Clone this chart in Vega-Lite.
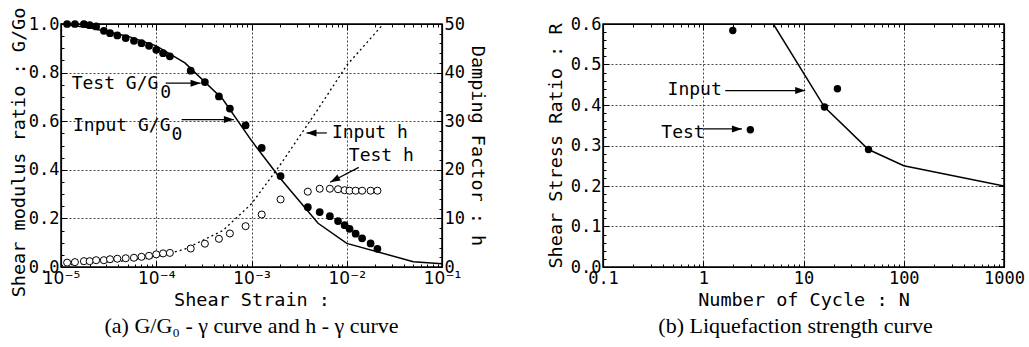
{
  "$schema": "https://vega.github.io/schema/vega-lite/v6.json",
  "background": "white",
  "padding": {"left": 8, "top": 6, "right": 0, "bottom": 0},
  "spacing": 58,
  "config": {
    "font": "DejaVu Sans Mono",
    "view": {"stroke": "black", "strokeWidth": 1.5},
    "axis": {
      "domainColor": "black", "domainWidth": 1.2, "tickColor": "black", "tickWidth": 1,
      "labelColor": "black", "titleColor": "black",
      "labelFont": "DejaVu Sans Mono", "titleFont": "DejaVu Sans Mono",
      "labelFontSize": 17, "titleFontSize": 18.5, "titleFontWeight": "normal",
      "gridColor": "#444", "gridDash": [2, 2], "gridWidth": 1,
      "labelOverlap": false, "labelFlush": false
    },
    "title": {"font": "Liberation Serif", "fontSize": 22, "fontWeight": "normal", "color": "black"}
  },
  "datasets": {
    "test": [
      {"strain": 1.16e-5, "G": 1.0, "h": 0.9},
      {"strain": 1.40e-5, "G": 1.0, "h": 1.0},
      {"strain": 1.74e-5, "G": 1.0, "h": 1.2},
      {"strain": 2.0e-5, "G": 0.995, "h": 1.2},
      {"strain": 2.34e-5, "G": 0.99, "h": 1.4},
      {"strain": 2.82e-5, "G": 0.972, "h": 1.4},
      {"strain": 3.27e-5, "G": 0.962, "h": 1.6},
      {"strain": 3.9e-5, "G": 0.953, "h": 1.7},
      {"strain": 4.78e-5, "G": 0.942, "h": 1.8},
      {"strain": 5.83e-5, "G": 0.931, "h": 1.9},
      {"strain": 7.0e-5, "G": 0.921, "h": 2.1},
      {"strain": 8.4e-5, "G": 0.91, "h": 2.3},
      {"strain": 1.0e-4, "G": 0.894, "h": 2.6},
      {"strain": 1.18e-4, "G": 0.88, "h": 2.8},
      {"strain": 1.39e-4, "G": 0.867, "h": 2.9},
      {"strain": 2.3e-4, "G": 0.808, "h": 3.8},
      {"strain": 3.24e-4, "G": 0.761, "h": 4.8},
      {"strain": 4.55e-4, "G": 0.702, "h": 5.8},
      {"strain": 5.93e-4, "G": 0.652, "h": 6.9},
      {"strain": 8.67e-4, "G": 0.583, "h": 8.4},
      {"strain": 1.28e-3, "G": 0.49, "h": 10.8},
      {"strain": 2.02e-3, "G": 0.374, "h": 13.9},
      {"strain": 3.9e-3, "G": 0.246, "h": 15.5},
      {"strain": 5.2e-3, "G": 0.226, "h": 16.1},
      {"strain": 6.65e-3, "G": 0.209, "h": 16.1},
      {"strain": 8.1e-3, "G": 0.189, "h": 16.0},
      {"strain": 9.5e-3, "G": 0.172, "h": 15.8},
      {"strain": 1.07e-2, "G": 0.157, "h": 15.7},
      {"strain": 1.24e-2, "G": 0.137, "h": 15.7},
      {"strain": 1.45e-2, "G": 0.118, "h": 15.7},
      {"strain": 1.78e-2, "G": 0.097, "h": 15.7},
      {"strain": 2.1e-2, "G": 0.075, "h": 15.7}
    ],
    "ginput": [
      {"strain": 1e-5, "G": 1.0},
      {"strain": 2e-5, "G": 0.985},
      {"strain": 5e-5, "G": 0.95},
      {"strain": 1e-4, "G": 0.91},
      {"strain": 2e-4, "G": 0.84},
      {"strain": 5e-4, "G": 0.69},
      {"strain": 1e-3, "G": 0.52},
      {"strain": 2e-3, "G": 0.365},
      {"strain": 5e-3, "G": 0.18},
      {"strain": 1e-2, "G": 0.097},
      {"strain": 5e-2, "G": 0.022},
      {"strain": 1e-1, "G": 0.013}
    ],
    "hinput": [
      {"strain": 1e-5, "h": 0.3},
      {"strain": 2e-5, "h": 0.8},
      {"strain": 5e-5, "h": 1.3},
      {"strain": 1e-4, "h": 2.0},
      {"strain": 2e-4, "h": 3.7},
      {"strain": 5e-4, "h": 7.5},
      {"strain": 1e-3, "h": 13},
      {"strain": 2e-3, "h": 21},
      {"strain": 5e-3, "h": 32.5},
      {"strain": 1e-2, "h": 41.5},
      {"strain": 5e-2, "h": 57}
    ],
    "gnotes": [
      {"strain": 1.294e-5, "G": 0.753, "label": "Test G/G"},
      {"strain": 1.1e-4, "G": 0.716, "label": "0"},
      {"strain": 1.336e-5, "G": 0.579, "label": "Input G/G"},
      {"strain": 1.449e-4, "G": 0.542, "label": "0"}
    ],
    "garrows": [
      {"strain": 1.256e-4, "G": 0.7565, "strain2": 2.92e-4, "G2": 0.7565},
      {"strain": 1.847e-4, "G": 0.6066, "strain2": 6.53e-4, "G2": 0.6066}
    ],
    "gheads": [
      {"strain": 2.92e-4, "G": 0.7565},
      {"strain": 6.53e-4, "G": 0.6066}
    ],
    "hnotes": [
      {"strain": 6.98e-3, "h": 27.6, "label": "Input h"},
      {"strain": 1.052e-2, "h": 22.8, "label": "Test h"}
    ],
    "harrows": [
      {"strain": 6.18e-3, "h": 27.58, "strain2": 3.78e-3, "h2": 27.58},
      {"strain": 1.337e-2, "h": 20.5, "strain2": 6.7e-3, "h2": 17.45}
    ],
    "hheadLeft": [
      {"strain": 3.78e-3, "h": 27.58}
    ],
    "hheadDiag": [
      {"strain": 6.7e-3, "h": 17.45}
    ],
    "liqTest": [
      {"N": 1.97, "R": 0.584},
      {"N": 2.95, "R": 0.339},
      {"N": 16.2, "R": 0.395},
      {"N": 21.8, "R": 0.44},
      {"N": 44.5, "R": 0.29}
    ],
    "liqInput": [
      {"N": 5.0, "R": 0.6},
      {"N": 16.2, "R": 0.395},
      {"N": 44.5, "R": 0.29},
      {"N": 100, "R": 0.25},
      {"N": 1000, "R": 0.2}
    ],
    "liqNotes": [
      {"N": 0.4406, "R": 0.4365, "label": "Input"},
      {"N": 0.382, "R": 0.331, "label": "Test"}
    ],
    "liqArrows": [
      {"N": 1.656, "R": 0.4357, "N2": 10.4, "R2": 0.4357},
      {"N": 1.007, "R": 0.341, "N2": 2.43, "R2": 0.341}
    ],
    "liqHeads": [
      {"N": 10.4, "R": 0.4357},
      {"N": 2.43, "R": 0.341}
    ]
  },
  "hconcat": [
    {
      "width": 381,
      "height": 243,
      "title": {"text": "(a)  G/G₀ - γ curve and  h - γ curve", "orient": "bottom", "offset": 7, "anchor": "middle"},
      "layer": [
        {
          "encoding": {
            "x": {
              "field": "strain", "type": "quantitative",
              "scale": {"type": "log", "domain": [1e-5, 0.1]},
              "axis": {
                "orient": "bottom",
                "values": [1e-5,2e-5,3e-5,4e-5,5e-5,6e-5,7e-5,8e-5,9e-5,1e-4,2e-4,3e-4,4e-4,5e-4,6e-4,7e-4,8e-4,9e-4,0.001,0.002,0.003,0.004,0.005,0.006,0.007,0.008,0.009,0.01,0.02,0.03,0.04,0.05,0.06,0.07,0.08,0.09,0.1],
                "labelExpr": "datum.value == 1e-5 ? '10⁻⁵' : datum.value == 1e-4 ? '10⁻⁴' : datum.value == 0.001 ? '10⁻³' : datum.value == 0.01 ? '10⁻²' : datum.value == 0.1 ? '10⁻¹' : ''",
                "labelFont": "DejaVu Sans", "labelFontSize": 17,
                "title": "Shear Strain : ",
                "tickSize": {"condition": {"test": "abs(log(datum.value)/LN10 - round(log(datum.value)/LN10)) < 1e-6", "value": -6}, "value": -3},
                "gridOpacity": {"condition": {"test": "abs(log(datum.value)/LN10 - round(log(datum.value)/LN10)) < 1e-6", "value": 1}, "value": 0},
                "labelPadding": 9,
                "titlePadding": 1
              }
            },
            "y": {
              "field": "G", "type": "quantitative",
              "scale": {"domain": [0, 1]},
              "axis": {
                "orient": "left",
                "values": [0,0.05,0.1,0.15,0.2,0.25,0.3,0.35,0.4,0.45,0.5,0.55,0.6,0.65,0.7,0.75,0.8,0.85,0.9,0.95,1],
                "labelExpr": "abs(datum.value*5 - round(datum.value*5)) < 1e-6 ? format(datum.value, '.1f') : ''",
                "title": "Shear modulus ratio : G/Go",
                "titleX": -33, "titleY": 128,
                "tickSize": {"condition": {"test": "abs(datum.value*5 - round(datum.value*5)) < 1e-6", "value": -6}, "value": -3},
                "gridOpacity": {"condition": {"test": "abs(datum.value*5 - round(datum.value*5)) < 1e-6", "value": 1}, "value": 0},
                "labelPadding": 8
              }
            }
          },
          "layer": [
            {"data": {"name": "ginput"}, "mark": {"type": "line", "color": "black", "strokeWidth": 1.5}},
            {"data": {"name": "test"}, "mark": {"type": "point", "shape": "circle", "filled": true, "color": "black", "size": 60, "opacity": 1}},
            {"data": {"name": "gnotes"}, "mark": {"type": "text", "align": "left", "baseline": "middle", "font": "DejaVu Sans Mono", "fontSize": 18, "color": "black"}, "encoding": {"text": {"field": "label"}}},
            {"data": {"name": "garrows"}, "mark": {"type": "rule", "color": "black", "strokeWidth": 1.2}, "encoding": {"x2": {"field": "strain2"}, "y2": {"field": "G2"}}},
            {"data": {"name": "gheads"}, "mark": {"type": "point", "shape": "M0,0L-2,-0.7L-2,0.7Z", "filled": true, "color": "black", "size": 100, "opacity": 1, "angle": 0}}
          ]
        },
        {
          "encoding": {
            "x": {
              "field": "strain", "type": "quantitative",
              "scale": {"type": "log", "domain": [1e-5, 0.1]},
              "axis": {
                "orient": "top",
                "values": [1e-5,2e-5,3e-5,4e-5,5e-5,6e-5,7e-5,8e-5,9e-5,1e-4,2e-4,3e-4,4e-4,5e-4,6e-4,7e-4,8e-4,9e-4,0.001,0.002,0.003,0.004,0.005,0.006,0.007,0.008,0.009,0.01,0.02,0.03,0.04,0.05,0.06,0.07,0.08,0.09,0.1],
                "labels": false, "title": null, "grid": false,
                "tickSize": {"condition": {"test": "abs(log(datum.value)/LN10 - round(log(datum.value)/LN10)) < 1e-6", "value": -6}, "value": -3}
              }
            },
            "y": {
              "field": "h", "type": "quantitative",
              "scale": {"domain": [0, 50]},
              "axis": {
                "orient": "right",
                "values": [0,2,4,6,8,10,12,14,16,18,20,22,24,26,28,30,32,34,36,38,40,42,44,46,48,50],
                "labelExpr": "datum.value % 10 == 0 ? format(datum.value, 'd') : ''",
                "title": "Damping Factor : h",
                "titleX": 25,
                "grid": false,
                "tickSize": {"condition": {"test": "datum.value % 10 == 0", "value": -6}, "value": -3},
                "labelPadding": 8
              }
            }
          },
          "layer": [
            {"data": {"name": "hinput"}, "mark": {"type": "line", "color": "black", "strokeWidth": 1.3, "strokeDash": [2, 3], "clip": true}},
            {"data": {"name": "test"}, "mark": {"type": "point", "shape": "circle", "fill": "white", "stroke": "black", "strokeWidth": 1, "size": 50, "opacity": 1}},
            {"data": {"name": "hnotes"}, "mark": {"type": "text", "align": "left", "baseline": "middle", "font": "DejaVu Sans Mono", "fontSize": 18, "color": "black"}, "encoding": {"text": {"field": "label"}}},
            {"data": {"name": "harrows"}, "mark": {"type": "rule", "color": "black", "strokeWidth": 1.2}, "encoding": {"x2": {"field": "strain2"}, "y2": {"field": "h2"}}},
            {"data": {"name": "hheadLeft"}, "mark": {"type": "point", "shape": "M0,0L-2,-0.7L-2,0.7Z", "filled": true, "color": "black", "size": 100, "opacity": 1, "angle": 180}},
            {"data": {"name": "hheadDiag"}, "mark": {"type": "point", "shape": "M0,0L-2,-0.7L-2,0.7Z", "filled": true, "color": "black", "size": 100, "opacity": 1, "angle": 152}}
          ]
        }
      ],
      "resolve": {"scale": {"y": "independent"}, "axis": {"x": "independent", "y": "independent"}}
    },
    {
      "width": 401,
      "height": 243,
      "title": {"text": "(b) Liquefaction strength curve", "orient": "bottom", "offset": 7, "anchor": "middle", "dx": -8},
      "layer": [
        {
          "encoding": {
            "x": {
              "field": "N", "type": "quantitative",
              "scale": {"type": "log", "domain": [0.1, 1000]},
              "axis": {
                "orient": "bottom",
                "values": [0.1,0.2,0.3,0.4,0.5,0.6,0.7,0.8,0.9,1,2,3,4,5,6,7,8,9,10,20,30,40,50,60,70,80,90,100,200,300,400,500,600,700,800,900,1000],
                "labelExpr": "abs(log(datum.value)/LN10 - round(log(datum.value)/LN10)) < 1e-6 ? (datum.value < 0.5 ? '0.1' : format(datum.value, 'd')) : ''",
                "title": "Number of Cycle : N",
                "tickSize": {"condition": {"test": "abs(log(datum.value)/LN10 - round(log(datum.value)/LN10)) < 1e-6", "value": -6}, "value": -3},
                "gridOpacity": {"condition": {"test": "abs(log(datum.value)/LN10 - round(log(datum.value)/LN10)) < 1e-6", "value": 1}, "value": 0},
                "labelPadding": 9,
                "titlePadding": 1
              }
            },
            "y": {
              "field": "R", "type": "quantitative",
              "scale": {"domain": [0, 0.6]},
              "axis": {
                "orient": "left",
                "values": [0,0.02,0.04,0.06,0.08,0.1,0.12,0.14,0.16,0.18,0.2,0.22,0.24,0.26,0.28,0.3,0.32,0.34,0.36,0.38,0.4,0.42,0.44,0.46,0.48,0.5,0.52,0.54,0.56,0.58,0.6],
                "labelExpr": "abs(datum.value*10 - round(datum.value*10)) < 1e-6 ? format(datum.value, '.1f') : ''",
                "title": "Shear Stress Ratio : R",
                "titleX": -38,
                "tickSize": {"condition": {"test": "abs(datum.value*10 - round(datum.value*10)) < 1e-6", "value": -6}, "value": -3},
                "gridOpacity": {"condition": {"test": "abs(datum.value*10 - round(datum.value*10)) < 1e-6", "value": 1}, "value": 0},
                "labelPadding": 8
              }
            }
          },
          "layer": [
            {"data": {"name": "liqInput"}, "mark": {"type": "line", "color": "black", "strokeWidth": 1.5, "clip": true}},
            {"data": {"name": "liqNotes"}, "mark": {"type": "text", "align": "left", "baseline": "middle", "font": "DejaVu Sans Mono", "fontSize": 18, "color": "black"}, "encoding": {"text": {"field": "label"}}},
            {"data": {"name": "liqArrows"}, "mark": {"type": "rule", "color": "black", "strokeWidth": 1.2}, "encoding": {"x2": {"field": "N2"}, "y2": {"field": "R2"}}},
            {"data": {"name": "liqHeads"}, "mark": {"type": "point", "shape": "M0,0L-2,-0.7L-2,0.7Z", "filled": true, "color": "black", "size": 100, "opacity": 1, "angle": 0}}
          ]
        },
        {
          "data": {"name": "liqTest"},
          "mark": {"type": "point", "shape": "circle", "filled": true, "color": "black", "size": 55, "opacity": 1},
          "encoding": {
            "x": {
              "field": "N", "type": "quantitative",
              "scale": {"type": "log", "domain": [0.1, 1000]},
              "axis": {
                "orient": "top",
                "values": [0.1,0.2,0.3,0.4,0.5,0.6,0.7,0.8,0.9,1,2,3,4,5,6,7,8,9,10,20,30,40,50,60,70,80,90,100,200,300,400,500,600,700,800,900,1000],
                "labels": false, "title": null, "grid": false,
                "tickSize": {"condition": {"test": "abs(log(datum.value)/LN10 - round(log(datum.value)/LN10)) < 1e-6", "value": -6}, "value": -3}
              }
            },
            "y": {
              "field": "R", "type": "quantitative",
              "scale": {"domain": [0, 0.6]},
              "axis": {
                "orient": "right",
                "values": [0,0.02,0.04,0.06,0.08,0.1,0.12,0.14,0.16,0.18,0.2,0.22,0.24,0.26,0.28,0.3,0.32,0.34,0.36,0.38,0.4,0.42,0.44,0.46,0.48,0.5,0.52,0.54,0.56,0.58,0.6],
                "labels": false, "title": null, "grid": false,
                "tickSize": {"condition": {"test": "abs(datum.value*10 - round(datum.value*10)) < 1e-6", "value": -6}, "value": -3}
              }
            }
          }
        }
      ],
      "resolve": {"axis": {"x": "independent", "y": "independent"}}
    }
  ]
}
